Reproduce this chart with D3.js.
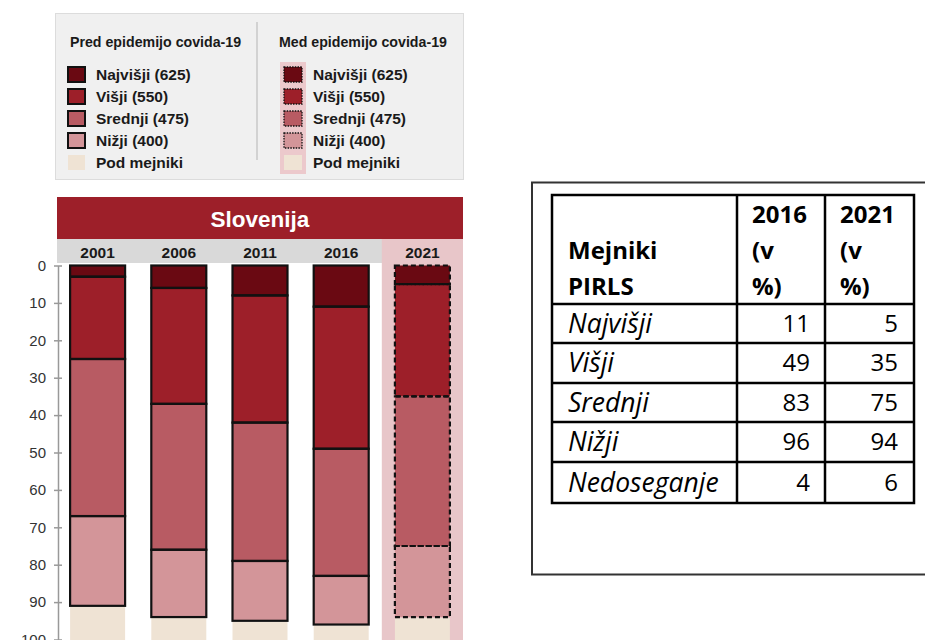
<!DOCTYPE html>
<html>
<head>
<meta charset="utf-8">
<script src="https://cdn.jsdelivr.net/npm/d3@7"></script>
<style>
body{margin:0;background:#fff;}
svg{display:block;}
</style>
</head>
<body>
<div id="chart"></div>
<script>
// podatki (kumulativni deleži v %)
var years=["2001","2006","2011","2016","2021"]
var levelNames=["Najvišji (625)","Višji (550)","Srednji (475)","Nižji (400)","Pod mejniki"]
var najvisji=[3,6,8,11,5]
var visji=[25,37,42,49,35]
var srednji=[67,76,79,83,75]
var nizji=[91,94,95,96,94]
var yTicks=[0,10,20,30,40,50,60,70,80,90,100]

// tabela
var tableRows=["Najvišji","Višji","Srednji","Nižji","Nedoseganje"]
var t2016=[11,49,83,96,4]
var t2021=[5,35,75,94,6]

var colors=["#6a0912","#9d1f29","#b85b63","#d39599","#efe3d4"]
var W=925,H=640
var svg=d3.select("#chart").append("svg").attr("width",W).attr("height",H)
var font="'Liberation Sans', Arial, sans-serif"

// ---- legenda
var lg=svg.append("g").style("font-family",font)
lg.append("rect").attr("x",55.5).attr("y",13.5).attr("width",408).attr("height",166)
    .attr("fill","#f0f0f0").attr("stroke","#dcdcdc")
lg.append("line").attr("x1",257).attr("x2",257).attr("y1",22).attr("y2",160)
    .attr("stroke","#c8c8c8").attr("stroke-width",1.5)
lg.append("text").attr("x",70).attr("y",47).text("Pred epidemijo covida-19")
    .attr("font-weight","bold").attr("font-size",14.2).attr("fill","#1a1a1a")
lg.append("text").attr("x",279).attr("y",47).text("Med epidemijo covida-19")
    .attr("font-weight","bold").attr("font-size",14.2).attr("fill","#1a1a1a")
lg.append("rect").attr("x",280).attr("y",62).attr("width",26).attr("height",112).attr("fill","#ecc9cc")
var rowY=d3.scaleBand().domain(levelNames).range([64,174])
levelNames.forEach(function(name,i){
    let y=rowY(name)+3
    let last=i==levelNames.length-1
    lg.append("rect").attr("x",68).attr("y",y).attr("width",17).attr("height",15)
        .attr("fill",colors[i]).attr("stroke",last?"none":"#111").attr("stroke-width",2)
    lg.append("rect").attr("x",284).attr("y",y).attr("width",18).attr("height",15)
        .attr("fill",colors[i]).attr("stroke",last?"none":"#111").attr("stroke-width",1.3)
        .attr("stroke-dasharray","1.5,1.2")
    lg.append("text").attr("x",96).attr("y",y+13).text(name)
        .attr("font-weight","bold").attr("font-size",15.5).attr("fill","#1a1a1a")
    lg.append("text").attr("x",313).attr("y",y+13).text(name)
        .attr("font-weight","bold").attr("font-size",15.5).attr("fill","#1a1a1a")
})

// ---- graf
var x=d3.scaleBand().domain(years).range([57,463])
var y=d3.scaleLinear().domain([0,100]).range([265.5,639.5])
var barW=55
var g=svg.append("g").style("font-family",font)
g.append("rect").attr("x",57).attr("y",197).attr("width",406).attr("height",42).attr("fill","#9d1f29")
g.append("text").attr("x",260).attr("y",226.5).attr("text-anchor","middle").text("Slovenija")
    .attr("fill","#fff").attr("font-weight","bold").attr("font-size",22.5)
g.append("rect").attr("x",57).attr("y",239).attr("width",406).attr("height",24).attr("fill","#d9d9d9")
g.append("rect").attr("x",x("2021")).attr("y",239).attr("width",x.bandwidth()).attr("height",H-239).attr("fill","#e8c6c9")
g.selectAll("text.yr").data(years).enter().append("text").attr("class","yr")
    .attr("x",d=>x(d)+x.bandwidth()/2).attr("y",257.5).attr("text-anchor","middle")
    .text(d=>d).attr("font-weight","bold").attr("font-size",15.5).attr("fill","#1a1a1a")

// os y
var axis=g.append("g").attr("transform","translate(58,0)")
    .call(d3.axisLeft(y).tickValues(yTicks).tickSize(0).tickPadding(12))
axis.select(".domain").attr("stroke","#999").attr("stroke-width",1.5)
axis.selectAll(".tick line").attr("x1",-4).attr("x2",4).attr("stroke","#999").attr("stroke-width",1.5)
axis.selectAll(".tick text").attr("font-size",15).attr("fill","#333").style("font-family",font)

// segmenti
var cum=[najvisji,visji,srednji,nizji]
years.forEach(function(yr,j){
    let bx=x(yr)+(x.bandwidth()-barW)/2
    let dashed=yr=="2021"
    let prev=0
    cum.forEach(function(arr,i){
        g.append("rect").attr("x",bx).attr("y",y(prev)).attr("width",barW)
            .attr("height",y(arr[j])-y(prev)).attr("fill",colors[i])
        prev=arr[j]
    })
    g.append("rect").attr("x",bx).attr("y",y(prev)+1).attr("width",barW)
        .attr("height",y(100)-y(prev)).attr("fill",colors[4])
    prev=0
    cum.forEach(function(arr,i){
        g.append("rect").attr("x",bx).attr("y",y(prev)).attr("width",barW)
            .attr("height",y(arr[j])-y(prev)).attr("fill","none")
            .attr("stroke","#111").attr("stroke-width",2.2)
            .attr("stroke-dasharray",dashed?"5,3":null)
        prev=arr[j]
    })
})

// ---- tabela
var tf="'Open Sans', sans-serif"
var t=svg.append("g").style("font-family",tf).attr("font-size",24).attr("fill","#000")
t.append("rect").attr("x",532).attr("y",182.5).attr("width",420).attr("height",392)
    .attr("fill","none").attr("stroke","#333").attr("stroke-width",2)
var colX=[552,737,825,914]
var rowEdges=[195,304,343,383,422,462,503]
t.append("rect").attr("x",colX[0]).attr("y",rowEdges[0]).attr("width",colX[3]-colX[0])
    .attr("height",rowEdges[6]-rowEdges[0]).attr("fill","none").attr("stroke","#000").attr("stroke-width",2.5)
rowEdges.slice(1,-1).forEach(r=>t.append("line").attr("x1",colX[0]).attr("x2",colX[3]).attr("y1",r).attr("y2",r)
    .attr("stroke","#000").attr("stroke-width",2.5))
colX.slice(1,-1).forEach(c=>t.append("line").attr("x1",c).attr("x2",c).attr("y1",rowEdges[0]).attr("y2",rowEdges[6])
    .attr("stroke","#000").attr("stroke-width",2.5))
// glava
var headLines=[["Mejniki","PIRLS"],["2016","(v","%)"],["2021","(v","%)"]]
var headX=[568,752,840]
headLines.forEach(function(lines,c){
    let n=lines.length
    lines.forEach(function(l,k){
        t.append("text").attr("x",headX[c]).attr("y",287-(n-1-k)*36).attr("dy","0.35em")
            .attr("font-weight","bold").text(l)
    })
})
tableRows.forEach(function(r,i){
    let cy=(rowEdges[i+2]+rowEdges[i+1])/2
    t.append("text").attr("x",568).attr("y",cy).attr("dy","0.35em").attr("font-style","italic")
        .attr("font-size",26.5).text(r)
    t.append("text").attr("x",810).attr("y",cy).attr("dy","0.35em").attr("text-anchor","end").text(t2016[i])
    t.append("text").attr("x",898).attr("y",cy).attr("dy","0.35em").attr("text-anchor","end").text(t2021[i])
})
</script>
</body>
</html>
